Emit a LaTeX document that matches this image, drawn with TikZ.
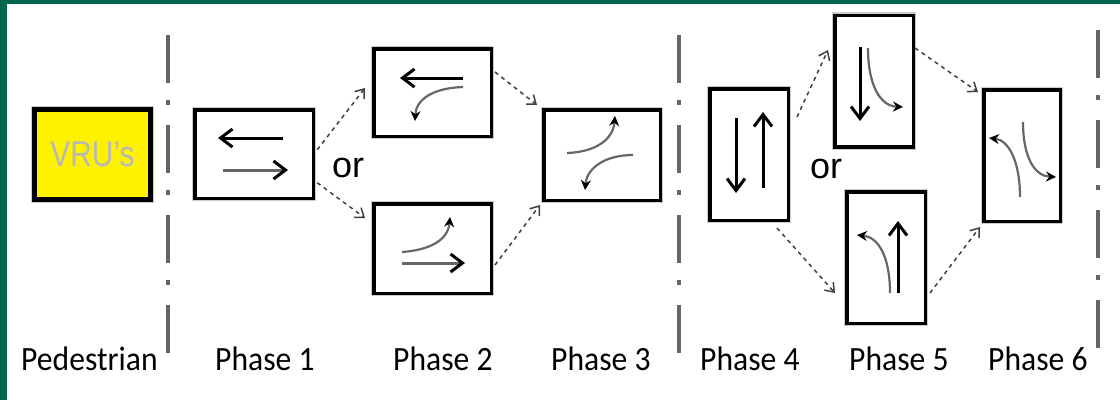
\documentclass[tikz,border=0pt]{standalone}
\usepackage{fontspec}
\usetikzlibrary{arrows.meta,calc}
\newfontfamily\lblfont[FakeStretch=0.93]{Carlito}
\newfontfamily\orfont{Liberation Sans}
\newfontfamily\vrufont[FakeStretch=0.83]{Liberation Sans}
\definecolor{framegreen}{RGB}{0,102,80}
\definecolor{vruyellow}{RGB}{255,242,0}
\definecolor{sepgray}{RGB}{102,102,102}
\tikzset{
  phasebox/.style={draw=black, line width=3.5pt, fill=white, inner sep=0pt, outer sep=0pt,
    preaction={draw=gray!40, line width=6pt}},
  vrubox/.style={draw=black, line width=5pt, fill=vruyellow, inner sep=0pt, outer sep=0pt,
    preaction={draw=gray!40, line width=7.5pt}, text=white!72!black,
    font=\vrufont\fontsize{36}{40}\selectfont},
  sepline/.style={draw=sepgray, line width=3.2pt, dash pattern=on 48pt off 17pt on 5pt off 20pt},
  conn/.style={draw=gray!50!black, line width=1.5pt, dash pattern=on 4pt off 4pt,
    -{Straight Barb[length=8pt,width=12pt,line width=1.5pt]}},
  straightarr/.style={line width=3pt, -{Straight Barb[length=12pt,width=18pt,line width=3pt,color=black]}},
  curvearr/.style={draw=black!60, line width=2.2pt, -{Stealth[length=10pt,width=10pt,color=black]}},
  phaselabel/.style={font=\lblfont\fontsize{34}{40}\selectfont, anchor=base west, inner sep=0pt},
  ortext/.style={font=\orfont\fontsize{36}{40}\selectfont, anchor=base west, inner sep=0pt}
}
\begin{document}
\begin{tikzpicture}[x=1pt,y=-1pt]
\fill[white] (0,0) rectangle (1120,400);
\useasboundingbox (0,0) rectangle (1120,400);
\fill[framegreen] (0,0) rectangle (7,400);
\fill[framegreen] (0,0) rectangle (1120,4);

% separators
\draw[sepline] (168,35) -- (168,355);
\draw[sepline] (679,35) -- (679,355);
\draw[sepline] (1098,30) -- (1098,362);

% boxes
\node[vrubox, minimum width=116pt, minimum height=90pt] (vru) at (92.5,154.5) {VRU’s};
\node[phasebox, minimum width=118.5pt, minimum height=88.5pt] (p1) at (254,154) {};
\node[phasebox, minimum width=117.5pt, minimum height=87.5pt] (p2a) at (432.5,92.5) {};
\node[phasebox, minimum width=117.5pt, minimum height=89.5pt] (p2b) at (432.5,248.5) {};
\node[phasebox, minimum width=116.5pt, minimum height=90.5pt] (p3) at (602,155) {};
\node[phasebox, minimum width=78.5pt, minimum height=131.5pt] (p4) at (749,154.5) {};
\node[phasebox, minimum width=78.5pt, minimum height=131.5pt] (p5a) at (874,81) {};
\node[phasebox, minimum width=78.5pt, minimum height=131.5pt] (p5b) at (886,257.5) {};
\node[phasebox, minimum width=76.5pt, minimum height=131.5pt] (p6) at (1022,155.5) {};

% inner arrows
\draw[straightarr, draw=black] (283,138) -- (218,138);
\draw[straightarr, draw=black!60] (223,170) -- (288,170);

\draw[straightarr, draw=black] (463,78) -- (400,78);
\draw[curvearr] (463,87) .. controls (432,88) and (416,100) .. (415,121);

\draw[straightarr, draw=black!60] (402,263) -- (465,263);
\draw[curvearr] (402,252) .. controls (430,250) and (448,240) .. (450,217);

\draw[curvearr] (567,153) .. controls (595,152) and (613,140) .. (615,116);
\draw[curvearr] (633,155) .. controls (605,155) and (587,168) .. (585,190);

\draw[straightarr, draw=black] (736,118) -- (736,193);
\draw[straightarr, draw=black] (763,188) -- (763,112);

\draw[straightarr, draw=black] (860,47) -- (860,121);
\draw[curvearr] (868,48) .. controls (868,85) and (880,106) .. (903,107);

\draw[straightarr, draw=black] (898,293) -- (898,221);
\draw[curvearr] (890,293) .. controls (890,256) and (878,237) .. (857,235);

\draw[curvearr] (1020,197) .. controls (1020,160) and (1008,140) .. (989,138);
\draw[curvearr] (1023,122) .. controls (1023,158) and (1035,176) .. (1056,177);

% dashed connectors
\draw[conn] ($(p1.north east)+(4,40)$) -- ($(p2a.north west)+(-8.75,39.25)$);
\draw[conn] ($(p1.north east)+(4,73)$) -- ($(p2b.north west)+(-8.75,14.25)$);
\draw[conn] ($(p2a.north east)+(3.75,23.25)$) -- ($(p3.north west)+(-6.75,-4.75)$);
\draw[conn] ($(p2b.north east)+(3.75,61.25)$) -- ($(p3.south west)+(-3.75,4.75)$);
\draw[conn] ($(p4.north east)+(8.75,28.25)$) -- ($(p5a.north west)+(-6.75,34.75)$);
\draw[conn] ($(p4.south east)+(-11.25,7.75)$) -- ($(p5b.south west)+(-11.75,-30.25)$);
\draw[conn] ($(p5a.north east)+(1.75,32.75)$) -- ($(p6.north west)+(-5.75,2.25)$);
\draw[conn] ($(p5b.north east)+(4.75,101.25)$) -- ($(p6.south west)+(-3.75,5.75)$);

% or labels
\node[ortext] (or1) at (332,177) {or};
\node[ortext] (or2) at (810,178) {or};

% phase labels
\node[phaselabel] (lped) at (21,370) {Pedestrian};
\node[phaselabel] (l1) at (215,370) {Phase 1};
\node[phaselabel] (l2) at (393,370) {Phase 2};
\node[phaselabel] (l3) at (551,370) {Phase 3};
\node[phaselabel] (l4) at (700,370) {Phase 4};
\node[phaselabel] (l5) at (849,370) {Phase 5};
\node[phaselabel] (l6) at (988,370) {Phase 6};
\end{tikzpicture}
\end{document}
